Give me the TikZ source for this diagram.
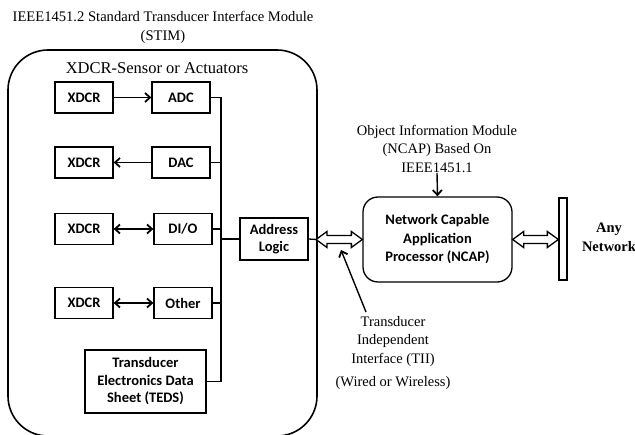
\documentclass[tikz,border=0pt]{standalone}
\usepackage{fontspec}
\setmainfont{Liberation Serif}
\newfontfamily\boxfont{Carlito}
\usetikzlibrary{calc,arrows.meta}
\tikzset{
  blk/.style={draw, line width=1.3pt, fill=white, font=\boxfont\bfseries\fontsize{14.5}{17.5}\selectfont, align=center, inner sep=1pt},
  lbl/.style={font=\fontsize{14.5}{18.5}\selectfont, align=center, inner sep=0pt},
  bus/.style={line width=1.3pt},
  arr/.style={line width=1.4pt, -{Straight Barb[length=5pt,width=9pt,line width=1.8pt]}},
  darr/.style={line width=1.4pt, {Straight Barb[length=5pt,width=9pt,line width=1.8pt]}-{Straight Barb[length=5pt,width=9pt,line width=1.8pt]}},
  hollow/.style={line width=1.3pt, fill=white, line join=miter},
}
\begin{document}
\begin{tikzpicture}[x=1pt,y=-1pt]
\useasboundingbox (0,0) rectangle (635,435);
% outer STIM
\draw[line width=1.6pt, rounded corners=40pt] (8,50) rectangle (317,436);
\node[lbl, font=\fontsize{14.6}{19}\selectfont] (stimt) at (163,27) {IEEE1451.2 Standard Transducer Interface Module\\(STIM)};
\node[lbl, font=\fontsize{16.5}{18}\selectfont] (xs) at (157,68) {XDCR-Sensor or Actuators};
% boxes
\node[blk, minimum width=58pt, minimum height=31pt] (x1) at (84,97.5) {XDCR};
\node[blk, minimum width=58pt, minimum height=31pt] (adc) at (181,97.5) {ADC};
\node[blk, minimum width=58pt, minimum height=31pt] (x2) at (84,162.5) {XDCR};
\node[blk, minimum width=58pt, minimum height=31pt] (dac) at (181,162.5) {DAC};
\node[blk, minimum width=58pt, minimum height=31pt] (x3) at (84,229) {XDCR};
\node[blk, minimum width=58pt, minimum height=31pt] (dio) at (183,229) {DI/O};
\node[blk, minimum width=58pt, minimum height=31pt] (x4) at (84,303) {XDCR};
\node[blk, minimum width=58pt, minimum height=31pt] (oth) at (183,303) {Other};
\node[blk, minimum width=121pt, minimum height=63pt] (teds) at (145.5,381.5) {Transducer\\Electronics Data\\Sheet (TEDS)};
\node[blk, font=\boxfont\bfseries\fontsize{14.5}{17}\selectfont, minimum width=68pt, minimum height=42pt] (al) at (274,239) {Address\\Logic};
\node[blk, font=\boxfont\bfseries\fontsize{14.5}{18.5}\selectfont, rounded corners=15pt, minimum width=149pt, minimum height=85pt] (ncap) at (437.5,239.5) {Network Capable\\Application\\Processor (NCAP)};
\node[draw, line width=1.3pt, minimum width=8pt, minimum height=82pt, inner sep=0pt] (bar) at (563,239) {};
\node[lbl, font=\bfseries\fontsize{14.5}{19}\selectfont] (any) at (609,237) {Any\\Network};
% bus
\coordinate (bt) at (221,97.5);
\coordinate (bb) at (221,381.5);
\draw[bus] (adc.east) -- (bt) -- (bb) -- (teds.east);
\draw[bus] (dac.east) -- (dac.east -| bt);
\draw[bus] (dio.east) -- (dio.east -| bt);
\draw[bus] (oth.east) -- (oth.east -| bt);
\draw[bus] (al.west -| bt) -- (al.west);
% xdcr connections
\draw[arr] (x1.east) -- (adc.west);
\draw[arr] (dac.west) -- (x2.east);
\draw[darr] (x3.east) -- (dio.west);
\draw[darr] (x4.east) -- (oth.west);
% hollow arrows
\coordinate (hl) at (316,239.5);
\draw[bus] (al.east) -- (hl);
\draw[hollow] (hl) -- ++(11,-8) -- ++(0,4) -- ($(ncap.west)+(-11,-4)$) -- ++(0,-4) -- (ncap.west) -- ++(-11,8) -- ++(0,-4) -- ($(hl)+(11,4)$) -- ++(0,4) -- cycle;
\coordinate (nr) at (ncap.east);
\coordinate (br) at (bar.west |- ncap.east);
\draw[hollow] (nr) -- ++(11,-8) -- ++(0,4) -- ($(br)+(-11,-4)$) -- ++(0,-4) -- (br) -- ++(-11,8) -- ++(0,-4) -- ($(nr)+(11,4)$) -- ++(0,4) -- cycle;
% object information label
\node[lbl] (oim) at (437,149) {Object Information Module\\(NCAP) Based On\\IEEE1451.1};
\draw[arr] (oim.south) -- (ncap.north);
% TII label
\node[lbl] (tii) at (393,341.5) {Transducer\\Independent\\Interface (TII)};
\node[lbl] (wow) at (393,383) {(Wired or Wireless)};
\coordinate (tiip) at (341,250);
\coordinate (tiis) at (366,312);
\draw[arr] (tiis) -- (tiip);
\end{tikzpicture}
\end{document}
